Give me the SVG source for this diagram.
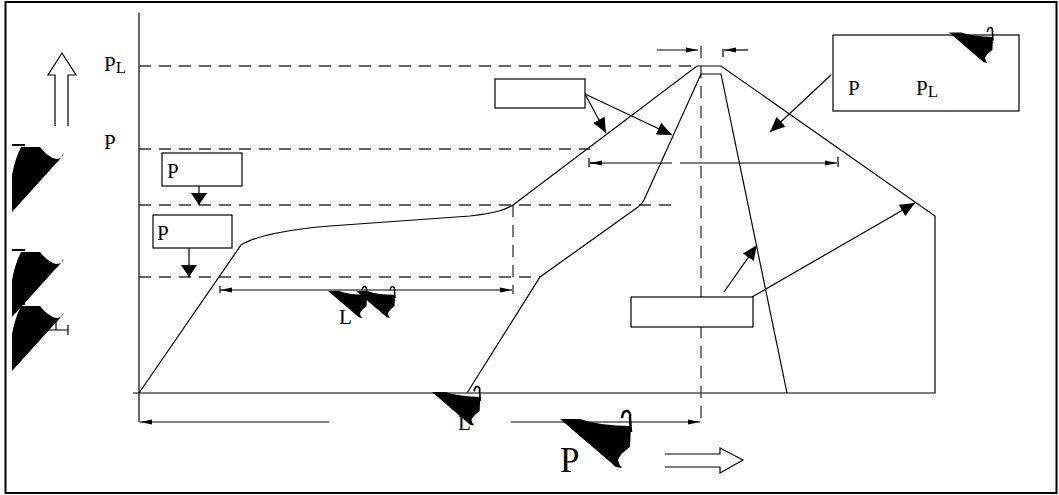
<svg xmlns="http://www.w3.org/2000/svg" xmlns:xlink="http://www.w3.org/1999/xlink" width="1059" height="495" viewBox="0 0 1059 495">
<style>
.ln{fill:none;stroke:#000;stroke-width:1.2}
.ds{fill:none;stroke:#333;stroke-width:1.3;stroke-dasharray:12 8}
.bx{fill:#fff;stroke:#000;stroke-width:1.2}
.tx{font-family:"Liberation Serif","Times New Roman",serif;font-size:21px;fill:#000}
.big{font-size:35px}
.sub{font-size:17px}
.blk{fill:#000}
.hk{fill:none;stroke:#000;stroke-width:2.5}
</style>
<defs>
<marker id="da" viewBox="0 0 12 6" markerWidth="12" markerHeight="6" refX="12" refY="3" orient="auto-start-reverse" markerUnits="userSpaceOnUse"><path d="M0,0.5 L12,3 L0,5.5 z" fill="#000"/></marker>
<marker id="ca" viewBox="0 0 15 13" markerWidth="15" markerHeight="13" refX="15" refY="6.5" orient="auto" markerUnits="userSpaceOnUse"><path d="M0,0 L15,6.5 L0,13 z" fill="#000"/></marker>
<marker id="dn" viewBox="0 0 12 16" markerWidth="12" markerHeight="16" refX="12" refY="8" orient="auto" markerUnits="userSpaceOnUse"><path d="M0,0 L12,8 L0,16 z" fill="#000"/></marker>
<g id="g1"><path class="blk" d="M9,2 L28,2 Q36,12 44,14 Q50,14 52,8 L48,14 L0,67 L0,30 Q3,14 9,2 Z"/><path d="M0,0 L13,0" stroke="#000" stroke-width="2"/></g>
<g id="g2"><path class="blk" d="M0,9 L20,9 Q40,16 71,16 L70,37 Q60,44 58,50 Q59,55 62,58 L56,57 Z"/><path class="hk" d="M62,8 Q63,0 67,1 Q71,2 70,8 L71,22"/></g>
</defs>
<rect x="5.5" y="2" width="1051" height="491" fill="#fff" stroke="#000" stroke-width="2"/>

<g id="axes">
<path class="ln" d="M139,13 V422"/>
<path class="ln" d="M133,393 H935"/>
</g>

<g id="guides">
<path class="ds" d="M139,66 H697"/>
<path class="ds" d="M139,149 H590"/>
<path class="ds" d="M139,205 H676"/>
<path class="ds" d="M139,277 H540"/>
<path class="ds" d="M513,205 V294"/>
<path class="ds" d="M701,46 V422"/>
<path class="ln" d="M723,49 V57"/>
</g>

<g id="curves">
<path class="ln" d="M139,393 L241,245 C255,236 290,229 330,226 L470,216 C495,213 505,210 513,205 L697,66 L721,66 L935,216 L935,393"/>
<path class="ln" d="M467,393 L540,277 L638,207 Q642,204 644,200 L701,74 L721,74 L787,393"/>
</g>

<g id="connectors">
<path class="ln" d="M657,50 H698" marker-end="url(#da)"/>
<path class="ln" d="M748,50 H724" marker-end="url(#da)"/>
<path class="ln" d="M590,163 H672 M680,163 H837" marker-end="url(#da)"/>
<path class="ln" d="M590,163 H600" marker-start="url(#da)"/>
<path class="ln" d="M589,158 V167 M838,157 V167"/>
<path class="ln" d="M220,290 H512" marker-start="url(#da)" marker-end="url(#da)"/>
<path class="ln" d="M220,286 V293"/>
<path class="ln" d="M140,422 H329" marker-start="url(#da)"/>
<path class="ln" d="M511,422 H700" marker-end="url(#da)"/>
<path class="ln" d="M199,186 V205" marker-end="url(#dn)"/>
<path class="ln" d="M189,248 V277" marker-end="url(#dn)"/>
<path class="ln" d="M585,94 L606,133" marker-end="url(#ca)"/>
<path class="ln" d="M585,94 L672,135" marker-end="url(#ca)"/>
<path class="ln" d="M831,75 L770,132" marker-end="url(#ca)"/>
<path class="ln" d="M724,292 L757,245" marker-end="url(#ca)"/>
<path class="ln" d="M752,297 L915,203" marker-end="url(#ca)"/>
</g>

<g id="box-p1"><rect class="bx" x="162" y="153" width="80" height="33"/><text class="tx" x="167" y="178">P</text></g>
<g id="box-p2"><rect class="bx" x="153" y="215" width="79" height="33"/><text class="tx" x="157" y="240">P</text></g>
<g id="box-top"><rect class="bx" x="495" y="79" width="90" height="29"/></g>
<g id="box-right"><rect class="bx" x="833" y="35" width="186" height="76"/><text class="tx" x="848" y="95">P</text><text class="tx" x="916" y="95">P<tspan class="sub" dy="2">L</tspan></text></g>
<g id="box-bottom"><rect class="bx" x="631" y="297" width="122" height="30"/></g>

<g id="big-arrows">
<path class="bx" d="M55,126 V75 H48 L62,53 L76,75 H68 V126"/>
<path class="bx" d="M665,454 H720 V448 L743,460 L720,473 V467 H665"/>
</g>

<g id="labels">
<text class="tx" x="104" y="71">P<tspan class="sub" dy="2">L</tspan></text>
<text class="tx" x="104" y="149">P</text>
<text class="tx" x="339" y="324">L</text>
<text class="tx" x="458" y="430">L</text>
<text class="tx big" x="560" y="472">P</text>
</g>

<g id="glyphs">
<use xlink:href="#g1" transform="translate(12,145)"/>
<use xlink:href="#g1" transform="translate(12,250)"/>
<use xlink:href="#g1" transform="translate(12,304)"/>
<path class="ln" d="M47,330 H68 M68,325 V335 M56,321 V330" stroke-width="1.5"/>
<use xlink:href="#g2" transform="translate(560,410)"/>
<use xlink:href="#g2" transform="translate(432,386) scale(0.68)"/>
<use xlink:href="#g2" transform="translate(328,286) scale(0.55)"/>
<use xlink:href="#g2" transform="translate(356,286) scale(0.55)"/>
<use xlink:href="#g2" transform="translate(949,27) scale(0.62)"/>
</g>
</svg>
